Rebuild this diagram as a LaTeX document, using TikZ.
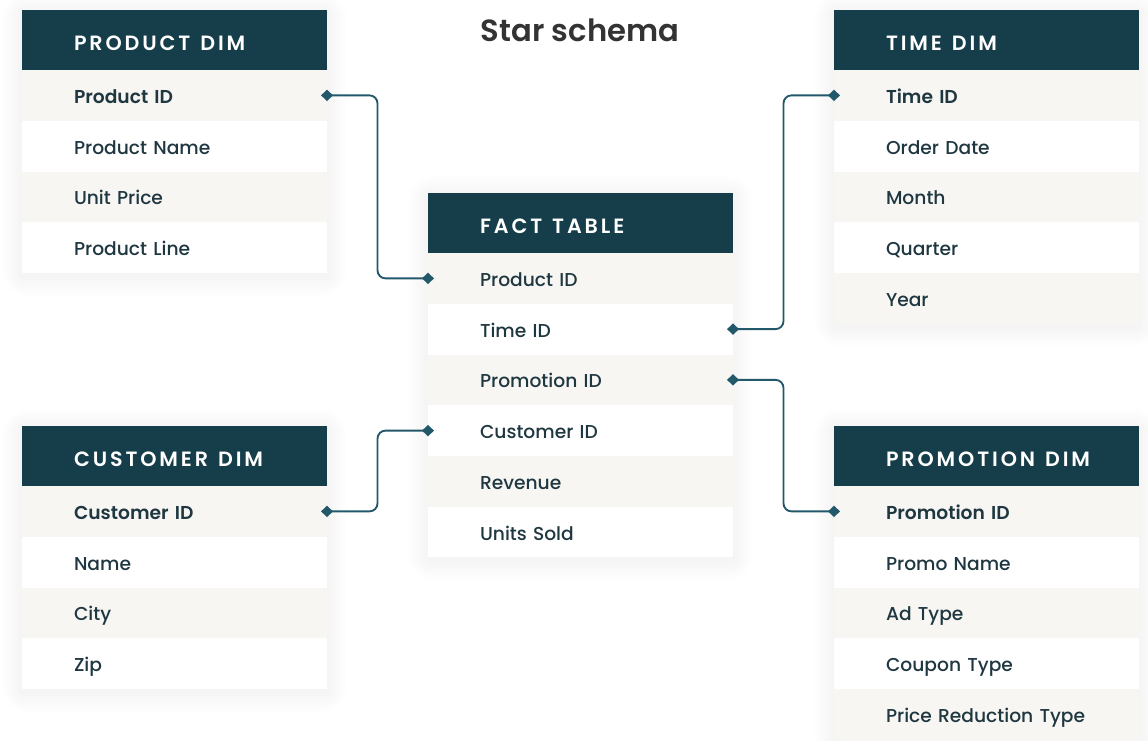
\documentclass[tikz,border=0pt]{standalone}
\usepackage{fontspec}
\setmainfont{Poppins}[UprightFont=* Medium, BoldFont=* SemiBold]
\newfontfamily\headfont[LetterSpace=14, UprightFont=* Medium, BoldFont=* SemiBold]{Poppins}
\usetikzlibrary{positioning,calc,arrows.meta,backgrounds}

\definecolor{headteal}{HTML}{153E4A}
\definecolor{rowgrey}{HTML}{F7F6F3}
\definecolor{fieldtext}{HTML}{1F3740}
\definecolor{linkteal}{HTML}{23586A}
\definecolor{titlegrey}{HTML}{333333}

\tikzset{
  tablehead/.style={fill=headteal, text=white, outer sep=0pt, inner xsep=0pt, inner ysep=0pt,
    text width=228.75pt, align=left, text height=30pt, text depth=15pt,
    font=\headfont\bfseries\fontsize{15.5}{18}\selectfont,
    execute at begin node={\spaceskip=7.5pt\relax\hspace*{39pt}}},
  oddrow/.style={fill=rowgrey, text=fieldtext, outer sep=0pt, inner xsep=0pt, inner ysep=0pt,
    text width=228.75pt, align=left, text height=25pt, text depth=13.06pt,
    font=\fontsize{14}{16}\selectfont,
    execute at begin node=\hspace*{39pt}},
  evenrow/.style={oddrow, fill=white},
  keyrow/.style={oddrow, font=\bfseries\fontsize{14}{16}\selectfont},
  link/.style={draw=linkteal, line width=1.4pt, rounded corners=6pt,
    {Diamond[length=9pt,width=8.5pt]}-{Diamond[length=9pt,width=8.5pt]},
    shorten <=-4.5pt, shorten >=-4.5pt}
}

\begin{document}
\begin{tikzpicture}[x=0.75pt, y=-0.75pt]
    \useasboundingbox (0,0) rectangle (1148,740);

    \node[font=\bfseries\fontsize{23}{27}\selectfont, text=titlegrey] (title) at (580,30) {Star schema};

    % product dimension
    \node[tablehead, anchor=north west] (prod) at (22,10) {PRODUCT DIM};
    \node[keyrow, below=0pt of prod] (prod-1) {Product ID};
    \node[evenrow, below=0pt of prod-1] (prod-2) {Product Name};
    \node[oddrow, below=0pt of prod-2] (prod-3) {Unit Price};
    \node[evenrow, below=0pt of prod-3] (prod-4) {Product Line};

    % time dimension
    \node[tablehead, anchor=north west] (time) at (834,10) {TIME DIM};
    \node[keyrow, below=0pt of time] (time-1) {Time ID};
    \node[evenrow, below=0pt of time-1] (time-2) {Order Date};
    \node[oddrow, below=0pt of time-2] (time-3) {Month};
    \node[evenrow, below=0pt of time-3] (time-4) {Quarter};
    \node[oddrow, below=0pt of time-4] (time-5) {Year};

    % fact table
    \node[tablehead, anchor=north west] (fact) at (428,193) {FACT TABLE};
    \node[oddrow, below=0pt of fact] (fact-1) {Product ID};
    \node[evenrow, below=0pt of fact-1] (fact-2) {Time ID};
    \node[oddrow, below=0pt of fact-2] (fact-3) {Promotion ID};
    \node[evenrow, below=0pt of fact-3] (fact-4) {Customer ID};
    \node[oddrow, below=0pt of fact-4] (fact-5) {Revenue};
    \node[evenrow, below=0pt of fact-5] (fact-6) {Units Sold};

    % customer dimension
    \node[tablehead, anchor=north west] (cust) at (22,426) {CUSTOMER DIM};
    \node[keyrow, below=0pt of cust] (cust-1) {Customer ID};
    \node[evenrow, below=0pt of cust-1] (cust-2) {Name};
    \node[oddrow, below=0pt of cust-2] (cust-3) {City};
    \node[evenrow, below=0pt of cust-3] (cust-4) {Zip};

    % promotion dimension
    \node[tablehead, anchor=north west] (promo) at (834,426) {PROMOTION DIM};
    \node[keyrow, below=0pt of promo] (promo-1) {Promotion ID};
    \node[evenrow, below=0pt of promo-1] (promo-2) {Promo Name};
    \node[oddrow, below=0pt of promo-2] (promo-3) {Ad Type};
    \node[evenrow, below=0pt of promo-3] (promo-4) {Coupon Type};
    \node[oddrow, below=0pt of promo-4] (promo-5) {Price Reduction Type};

    % soft shadows
    \begin{scope}[on background layer]
        \foreach \hd/\lst in {prod/prod-4, time/time-5, fact/fact-6, cust/cust-4, promo/promo-5}
            \foreach \s in {2,4,...,20}
                \fill[black, opacity=0.004, rounded corners=\s]
                    ([shift={(-\s,-\s+3)}]\hd.north west) rectangle ([shift={(\s,\s+3)}]\lst.south east);
    \end{scope}

    % keys
    \draw[link] (prod-1.east) -| ($(prod-1.east)!.5!(fact-1.west)$) |- (fact-1.west);
    \draw[link] (fact-2.east) -| ($(fact-2.east)!.5!(time-1.west)$) |- (time-1.west);
    \draw[link] (fact-3.east) -| ($(fact-3.east)!.5!(promo-1.west)$) |- (promo-1.west);
    \draw[link] (cust-1.east) -| ($(cust-1.east)!.5!(fact-4.west)$) |- (fact-4.west);
\end{tikzpicture}
\end{document}
